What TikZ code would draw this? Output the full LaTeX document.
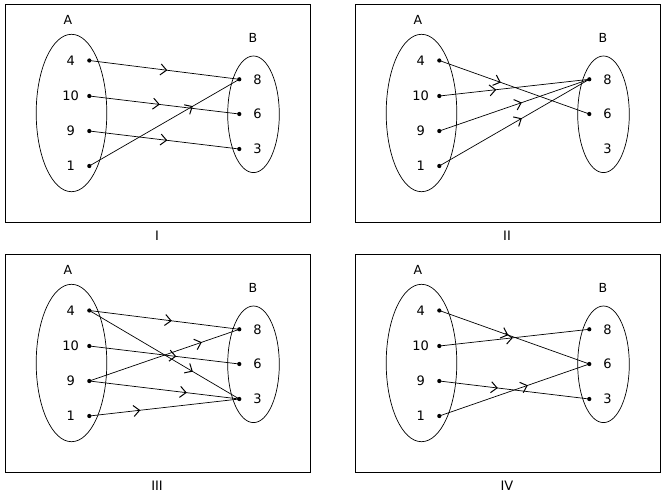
\documentclass[tikz,border=0pt]{standalone}
\usepackage{fontspec}
\setmainfont{DejaVu Sans}
\usetikzlibrary{arrows.meta,decorations.markings}
\tikzset{
  punto/.style={circle, fill, inner sep=0pt, minimum size=4.2pt},
  elemento/.style={font=\fontsize{13}{15}\selectfont, inner sep=0pt},
  nome/.style={font=\fontsize{12.5}{15}\selectfont, inner sep=0pt},
  freccia/.style={postaction={decorate},
    decoration={markings, mark=at position #1 with {\arrow[line width=1pt]{Straight Barb[length=6pt,width=11pt]}}}}
}
\begin{document}
\begin{tikzpicture}[x=1pt,y=-1pt,line width=0.7pt]
  \useasboundingbox (0,0) rectangle (665,499);

  \foreach \p/\dx/\dy/\pb in {I/0/0/{8/79.3,6/114,3/149}, II/350/0/{8/79.3,6/114},
      III/0/250/{8/79.3,6/114,3/149}, IV/350/250/{8/79.3,6/114,3/149}} {
    \begin{scope}[shift={(\dx,\dy)}]
      \draw (5,4) rectangle (310,222);
      \node[elemento] (\p-titolo) at (157,236) {\p};

      \draw (71.5,113) ellipse [x radius=35.3, y radius=78.7];
      \draw (253.5,114.3) ellipse [x radius=25.8, y radius=58.3];
      \node[nome] (\p-A) at (68,20) {A};
      \node[nome] (\p-B) at (253,38) {B};

      \foreach \a/\y in {4/60.5, 10/96, 9/131, 1/166} {
        \node[elemento] (\p-la\a) at (70.7,\y) {\a};
        \node[punto] (\p-a\a) at (89.3,\y) {};
      }
      \foreach \b/\y in {8/79.3, 6/114, 3/149}
        \node[elemento] (\p-lb\b) at (257.5,\y) {\b};
      \foreach \b/\y in \pb
        \node[punto] (\p-b\b) at (239.3,\y) {};
    \end{scope}
  }

  \foreach \p/\a/\b/\pos in {I/4/8/0.52, I/10/6/0.47, I/9/3/0.52, I/1/8/0.69,
      II/4/6/0.41, II/10/8/0.38, II/9/8/0.55, II/1/8/0.55,
      III/4/8/0.55, III/4/3/0.69, III/10/6/0.58, III/9/8/0.75, III/9/3/0.65, III/1/3/0.34,
      IV/4/6/0.46, IV/10/8/0.49, IV/9/3/0.39, IV/1/6/0.59}
    \draw[freccia=\pos] (\p-a\a.center) -- (\p-b\b.center);
\end{tikzpicture}
\end{document}
